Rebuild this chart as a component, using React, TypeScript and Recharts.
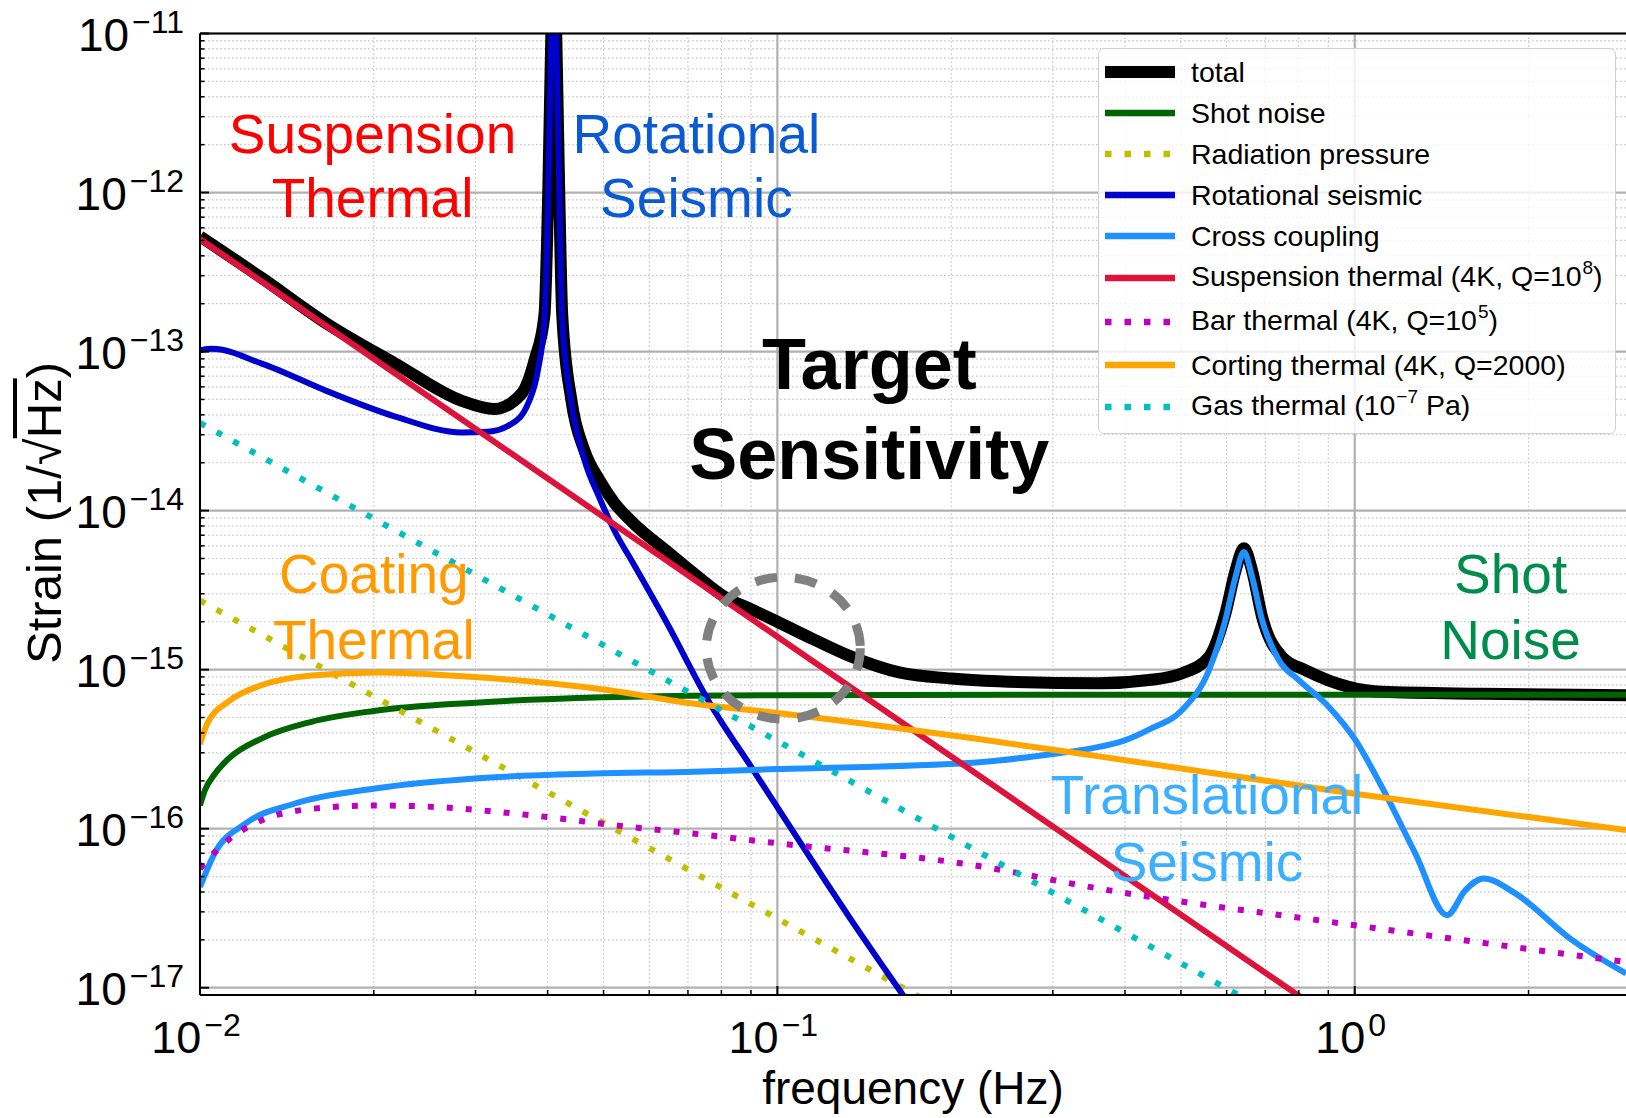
import React from "react";
import { CartesianGrid, Legend, Line, LineChart, ReferenceDot, XAxis, YAxis } from "recharts";

// Strain noise budget: total sensitivity and its contributions, log-log.
// Values: [frequency Hz, strain 1/sqrt(Hz)].

document.body.style.margin = "0";

type Pt = [number, number];

const totalPts: Pt[] = [
  [0.01, 5.3e-13], [0.0128, 2.9e-13], [0.01667, 1.48e-13], [0.0218, 8.4e-14],
  [0.0284, 4.9e-14], [0.0323, 4.35e-14], [0.036, 5.4e-14], [0.038, 8.9e-14],
  [0.0395, 1.7e-13], [0.0401, 1e-12], [0.0406, 1e-11], [0.041, 8e-11],
  [0.0414, 1e-11], [0.0419, 1e-12], [0.0424, 1.7e-13], [0.044, 4.9e-14],
  [0.0463, 2.4e-14], [0.0492, 1.55e-14], [0.0522, 1.12e-14], [0.0562, 8.4e-15],
  [0.0642, 5.6e-15], [0.0725, 3.9e-15], [0.0813, 2.85e-15], [0.09, 2.4e-15],
  [0.1, 2.0e-15], [0.1155, 1.55e-15], [0.1333, 1.22e-15], [0.1626, 9.6e-16],
  [0.2, 8.8e-16], [0.2416, 8.45e-16], [0.3606, 8.2e-16], [0.44, 8.6e-16],
  [0.5028, 9.5e-16], [0.559, 1.2e-15], [0.597, 2.25e-15], [0.6217, 4.2e-15],
  [0.6427, 5.8e-15], [0.664, 4.2e-15], [0.691, 2.15e-15], [0.7484, 1.2e-15],
  [0.8226, 9.9e-16], [0.976, 7.8e-16], [1.114, 7.25e-16], [1.66, 7.05e-16],
  [2.95, 6.9e-16],
];

const shotPts: Pt[] = [
  [0.01, 1.4e-16], [0.0102, 1.75e-16], [0.0106, 2.2e-16], [0.0112, 2.75e-16],
  [0.0128, 3.7e-16], [0.0156, 4.7e-16], [0.02, 5.5e-16], [0.03, 6.2e-16],
  [0.05, 6.7e-16], [0.07, 6.85e-16], [0.1, 6.9e-16], [0.3, 6.95e-16],
  [1, 6.95e-16], [2.95, 6.95e-16],
];

const radiationPts: Pt[] = [[0.01, 2.72e-15], [0.1, 2.72e-17], [1, 2.72e-19]];

const rotationalPts: Pt[] = [
  [0.01, 1.02e-13], [0.0105, 1.04e-13], [0.0128, 8.4e-14], [0.01667, 5.6e-14],
  [0.0218, 3.9e-14], [0.0284, 3.1e-14], [0.0315, 3.13e-14], [0.0346, 3.5e-14],
  [0.037, 4.7e-14], [0.0385, 7.7e-14], [0.0395, 1.6e-13], [0.0401, 1e-12],
  [0.0406, 1e-11], [0.041, 8e-11], [0.0414, 1e-11], [0.0419, 1e-12],
  [0.0424, 1.6e-13], [0.044, 4.7e-14], [0.0463, 2.1e-14], [0.0492, 1.2e-14],
  [0.0522, 7.5e-15], [0.0562, 4.7e-15], [0.0642, 2.0e-15], [0.0763, 6.2e-16],
  [0.0906, 2.37e-16], [0.1121, 7.2e-17], [0.1333, 2.77e-17], [0.1626, 9.7e-18],
  [0.2, 3.3e-18],
];

const crossPts: Pt[] = [
  [0.01, 4.3e-17], [0.0106, 7.0e-17], [0.012, 1.08e-16], [0.0146, 1.44e-16],
  [0.0201, 1.79e-16], [0.0299, 2.07e-16], [0.0482, 2.22e-16], [0.0719, 2.28e-16],
  [0.1, 2.37e-16], [0.2184, 2.6e-16], [0.3, 2.95e-16], [0.35, 3.2e-16],
  [0.396, 3.55e-16], [0.44, 4.2e-16], [0.5028, 5.6e-16], [0.559, 9.9e-16],
  [0.597, 2.05e-15], [0.6217, 3.84e-15], [0.6427, 5.5e-15], [0.664, 3.84e-15],
  [0.691, 2.05e-15], [0.7387, 1.15e-15], [0.8, 8.6e-16], [0.902, 5.83e-16],
  [1.003, 3.6e-16], [1.114, 1.83e-16], [1.273, 7.0e-17], [1.445, 2.86e-17],
  [1.554, 4.1e-17], [1.671, 4.87e-17], [1.897, 3.92e-17], [2.377, 2.0e-17],
  [2.95, 1.23e-17],
];

const suspensionPts: Pt[] = [[0.01, 5.1e-13], [0.1, 1.61e-15], [1, 5.1e-18]];

const barPts: Pt[] = [
  [0.01, 5.6e-17], [0.0102, 6.1e-17], [0.0112, 8.5e-17], [0.0128, 1.13e-16],
  [0.015, 1.31e-16], [0.0201, 1.4e-16], [0.0255, 1.37e-16], [0.037, 1.22e-16],
  [0.055, 1.03e-16], [0.0719, 9.3e-17], [0.1, 8.1e-17], [0.2184, 5.9e-17],
  [0.3606, 4.2e-17], [1, 2.47e-17], [2.95, 1.45e-17],
];

const coatingPts: Pt[] = [
  [0.01, 3.4e-16], [0.0103, 4.6e-16], [0.0112, 6.3e-16], [0.0128, 8.0e-16],
  [0.0156, 9.2e-16], [0.0204, 9.6e-16], [0.029, 9.05e-16], [0.05, 7.5e-16],
  [0.0719, 6.1e-16], [0.1, 5.34e-16], [0.2184, 3.7e-16], [0.3606, 2.85e-16],
  [1, 1.66e-16], [2.95, 9.8e-17],
];

const gasPts: Pt[] = [[0.01, 3.56e-14], [0.1, 3.56e-16], [1, 3.56e-18]];

// axes
const xDomain: [number, number] = [0.01, 2.95];
const yDomain: [number, number] = [9e-18, 1e-11];
const xMajor = [0.01, 0.1, 1];
const yMajor = [1e-17, 1e-16, 1e-15, 1e-14, 1e-13, 1e-12, 1e-11];
const minorSteps = [2, 3, 4, 5, 6, 7, 8, 9];
const xMinor = xMajor.flatMap((d) => minorSteps.map((m) => d * m)).filter((v) => v < xDomain[1]);
const yMinor = yMajor.slice(0, -1).flatMap((d) => minorSteps.map((m) => d * m));
const xTicks = [...xMajor, ...xMinor].sort((a, b) => a - b);
const yTicks = [...yMajor, ...yMinor].sort((a, b) => a - b);

// text annotations, anchored at the centre of each block
const notes = [
  { f: 0.0199, h: 1.49e-12, lines: ["Suspension", "Thermal"], color: "#ff0000", size: 55, gap: 64, bold: false },
  { f: 0.0724, h: 1.49e-12, lines: ["Rotational", "Seismic"], color: "#0a5bd3", size: 55, gap: 64, bold: false },
  { f: 0.1443, h: 4.42e-14, lines: ["Target", "Sensitivity"], color: "#000000", size: 72, gap: 90, bold: true },
  { f: 0.02, h: 2.51e-15, lines: ["Coating", "Thermal"], color: "#ff9a00", size: 55, gap: 66, bold: false },
  { f: 1.862, h: 2.5e-15, lines: ["Shot", "Noise"], color: "#008c4b", size: 55, gap: 66, bold: false },
  { f: 0.5546, h: 1.02e-16, lines: ["Translational", "Seismic"], color: "#3cb0ff", size: 55, gap: 67, bold: false },
];

const focus = { f: 0.1024, h: 1.365e-15 };

const DOTS = "6 13";

type SeriesDef = {
  key: string;
  label: React.ReactNode;
  pts: Pt[];
  color: string;
  width: number;
  dash?: string;
  curve: "linear" | "monotone";
  tall?: boolean;
};

function supStyle(): React.CSSProperties {
  return { fontSize: 19, verticalAlign: "baseline", position: "relative", top: -12, marginLeft: 1 };
}

const series: SeriesDef[] = [
  { key: "total", label: "total", pts: totalPts, color: "#000000", width: 12, curve: "monotone" },
  { key: "shot", label: "Shot noise", pts: shotPts, color: "#006400", width: 6, curve: "monotone" },
  { key: "rad", label: "Radiation pressure", pts: radiationPts, color: "#bfbf00", width: 6, dash: DOTS, curve: "linear" },
  { key: "rot", label: "Rotational seismic", pts: rotationalPts, color: "#0000cd", width: 6, curve: "monotone" },
  { key: "cross", label: "Cross coupling", pts: crossPts, color: "#1e90ff", width: 6, curve: "monotone" },
  {
    key: "susp",
    label: <>Suspension thermal (4K, Q=10<sup style={supStyle()}>8</sup>)</>,
    pts: suspensionPts, color: "#dc143c", width: 6, curve: "linear", tall: true,
  },
  {
    key: "bar",
    label: <>Bar thermal (4K, Q=10<sup style={supStyle()}>5</sup>)</>,
    pts: barPts, color: "#bf00bf", width: 6, dash: DOTS, curve: "monotone", tall: true,
  },
  { key: "coat", label: "Corting thermal (4K, Q=2000)", pts: coatingPts, color: "#ffa500", width: 6, curve: "monotone" },
  {
    key: "gas",
    label: <>Gas thermal (10<sup style={supStyle()}>{"\u22127"}</sup> Pa)</>,
    pts: gasPts, color: "#00bfbf", width: 6, dash: DOTS, curve: "linear", tall: true,
  },
];

const isMajor = (v: number, majors: number[]) => majors.some((m) => Math.abs(v / m - 1) < 1e-6);
const expText = (v: number) => {
  const e = Math.round(Math.log10(v));
  return e < 0 ? "\u2212" + Math.abs(e) : String(e);
};

function YTick(props: any) {
  const { x, y, payload } = props;
  const major = isMajor(payload.value, yMajor);
  return (
    <g>
      <line x1={x} x2={x + (major ? 9 : 4.5)} y1={y} y2={y} stroke="#000" strokeWidth={major ? 2 : 1.5} />
      {major && (
        <text x={x - 16} y={y + 17} textAnchor="end" fontSize={46} fill="#000">
          10
          <tspan dx={3} dy={-18} fontSize={32}>{expText(payload.value)}</tspan>
        </text>
      )}
    </g>
  );
}

function XTick(props: any) {
  const { x, y, payload } = props;
  const major = isMajor(payload.value, xMajor);
  return (
    <g>
      <line x1={x} x2={x} y1={y} y2={y - (major ? 9 : 5)} stroke="#000" strokeWidth={major ? 2 : 1.5} />
      {major && (
        <text x={x - 4} y={y + 58} textAnchor="middle" fontSize={45} fill="#000">
          10
          <tspan dx={3} dy={-17} fontSize={32}>{expText(payload.value)}</tspan>
        </text>
      )}
    </g>
  );
}

function NoteLabel(props: any) {
  const { cx, cy, note } = props;
  const n = note.lines.length;
  return (
    <text textAnchor="middle" fill={note.color} fontSize={note.size} fontWeight={note.bold ? 700 : 400}>
      {note.lines.map((t: string, i: number) => (
        <tspan key={t} x={cx} y={cy + (i - (n - 1) / 2) * note.gap + note.size * 0.358}>
          {t}
        </tspan>
      ))}
    </text>
  );
}

function FocusRing(props: any) {
  const { cx, cy } = props;
  return (
    <ellipse cx={cx} cy={cy} rx={77} ry={71} fill="none" stroke="#808080" strokeWidth={9} strokeDasharray="22 18" />
  );
}

function LegendBox() {
  return (
    <div
      style={{
        boxSizing: "border-box",
        width: 518,
        height: 386,
        padding: "2px 0 0 0",
        background: "rgba(255,255,255,0.82)",
        border: "1.5px solid #d0d0d0",
        borderRadius: 6,
        fontSize: 28.5,
        color: "#000",
      }}
    >
      {series.map((s) => (
        <div key={s.key} style={{ display: "flex", alignItems: "center", height: s.tall ? 44 : 41 }}>
          <svg width={92} height={16} style={{ flex: "none" }}>
            <line
              x1={6}
              x2={76}
              y1={8}
              y2={8}
              stroke={s.color}
              strokeWidth={s.key === "total" ? 12 : 6.5}
              strokeDasharray={s.dash ? "6.5 13" : undefined}
            />
          </svg>
          <span style={{ whiteSpace: "nowrap", lineHeight: "30px" }}>{s.label}</span>
        </div>
      ))}
    </div>
  );
}

export default function App() {
  return (
    <div
      style={{
        position: "relative",
        width: 1626,
        height: 1118,
        background: "#fff",
        fontFamily: "'Liberation Sans', Arial, Helvetica, sans-serif",
      }}
    >
      <LineChart width={1626} height={1118} margin={{ top: 32.5, right: 0, bottom: 0, left: 0 }}>
        <CartesianGrid
          stroke="#c4c4c4"
          strokeWidth={1.2}
          strokeDasharray="1.5 2.5"
          horizontalValues={yMinor}
          verticalValues={xMinor}
        />
        <CartesianGrid stroke="#b0b0b0" strokeWidth={2.2} horizontalValues={yMajor} verticalValues={xMajor} />
        <XAxis
          type="number"
          dataKey="f"
          scale="log"
          domain={xDomain}
          allowDataOverflow
          ticks={xTicks}
          interval={0}
          tickSize={0}
          tickMargin={0}
          tick={(p: any) => <XTick {...p} />}
          height={123}
          axisLine={{ stroke: "#000", strokeWidth: 2 }}
          label={{ value: "frequency (Hz)", position: "insideBottom", offset: 14, fontSize: 46, fill: "#000" }}
        />
        <XAxis
          xAxisId="top"
          orientation="top"
          type="number"
          dataKey="f"
          scale="log"
          domain={xDomain}
          allowDataOverflow
          height={1}
          tick={false}
          tickLine={false}
          axisLine={{ stroke: "#000", strokeWidth: 2 }}
        />
        <YAxis
          type="number"
          dataKey="h"
          scale="log"
          domain={yDomain}
          allowDataOverflow
          ticks={yTicks}
          interval={0}
          tickSize={0}
          tickMargin={0}
          tick={(p: any) => <YTick {...p} />}
          width={200}
          axisLine={{ stroke: "#000", strokeWidth: 2 }}
        />
        <Legend
          layout="vertical"
          align="center"
          verticalAlign="middle"
          wrapperStyle={{ position: "absolute", left: 1098, top: 48, width: 518, height: 386 }}
          content={() => <LegendBox />}
        />
        {series.map((s) => (
          <Line
            key={s.key}
            name={s.key}
            data={s.pts.map(([f, h]) => ({ f, h }))}
            dataKey="h"
            type={s.curve}
            stroke={s.color}
            strokeWidth={s.width}
            strokeDasharray={s.dash}
            strokeLinejoin="round"
            dot={false}
            activeDot={false}
            isAnimationActive={false}
          />
        ))}
        <ReferenceDot x={focus.f} y={focus.h} r={1} ifOverflow="visible" shape={(p: any) => <FocusRing {...p} />} />
        {notes.map((n) => (
          <ReferenceDot
            key={n.lines[0] + n.f}
            x={n.f}
            y={n.h}
            r={1}
            ifOverflow="visible"
            shape={(p: any) => <NoteLabel {...p} note={n} />}
          />
        ))}
      </LineChart>
      <div
        style={{
          position: "absolute",
          left: 44,
          top: 513,
          transform: "translate(-50%, -50%) rotate(-90deg)",
          whiteSpace: "nowrap",
          fontSize: 49,
          lineHeight: "58px",
          color: "#000",
        }}
      >
        Strain (1/√<span style={{ textDecoration: "overline" }}>Hz</span>)
      </div>
    </div>
  );
}
